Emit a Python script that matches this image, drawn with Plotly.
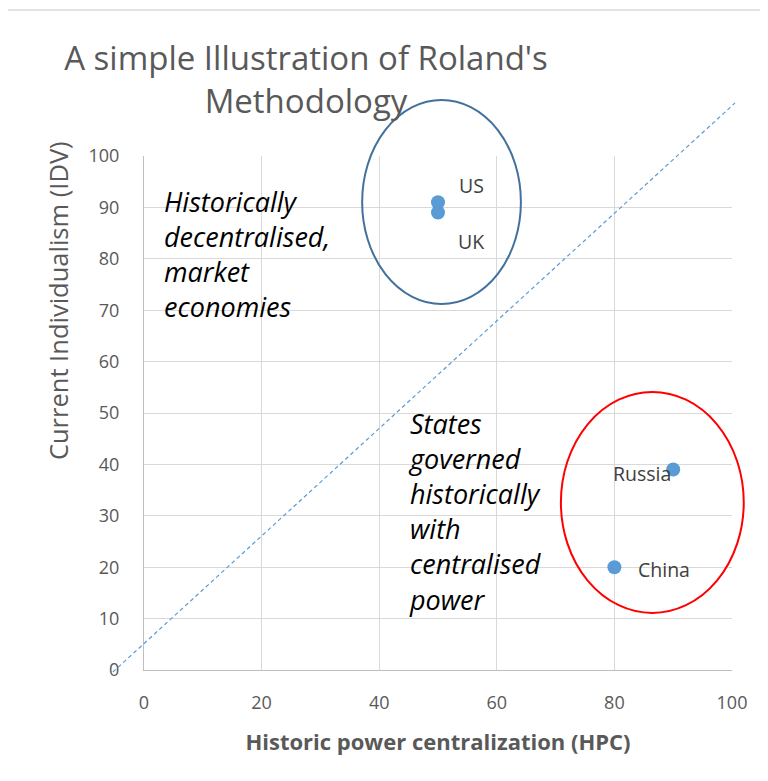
import plotly.graph_objects as go

countries = ["US", "UK", "Russia", "China"]
hpc = [50, 50, 90, 80]
idv = [91, 89, 39, 20]
label_anchor = ["left", "left", "right", "left"]
label_dx = [19, 18, 0, 22]
label_dy = [17, -29, -4, -2]

x_ticks = [0, 20, 40, 60, 80, 100]
y_ticks = [0, 10, 20, 30, 40, 50, 60, 70, 80, 90, 100]
X_RANGE = [0, 100]
Y_RANGE = [0, 100]

# reference guide line (data coords), and group ellipses (data coords)
diag_x = [-5.3, 100.5]
diag_y = [-0.4, 110.3]
blue_ellipse = [37.1, 71.2, 64.1, 110.9]   # x0, y0, x1, y1
red_ellipse = [70.9, 11.1, 102.0, 54.1]

left_text = ["Historically", "decentralised,", "market", "economies"]
left_pos = [3.0, 81]
right_text = ["States", "governed", "historically", "with", "centralised", "power"]
right_pos = [44.6, 30.8]

GREY = "#595959"
FONT = "Open Sans"


def px(v):
    return (v - X_RANGE[0]) / (X_RANGE[1] - X_RANGE[0])


def py(v):
    return (v - Y_RANGE[0]) / (Y_RANGE[1] - Y_RANGE[0])


fig = go.Figure()
fig.add_trace(go.Scatter(
    x=hpc, y=idv, mode="markers",
    marker=dict(color="#5b9bd5", size=14),
    hoverinfo="x+y+text", text=countries, showlegend=False,
))

for c, xv, yv, anc, dx, dy in zip(countries, hpc, idv, label_anchor, label_dx, label_dy):
    fig.add_annotation(x=xv, y=yv, text=c, showarrow=False, xanchor=anc,
                       xshift=dx, yshift=dy,
                       font=dict(family=FONT, size=19.5, color="#404040"))

fig.add_annotation(x=left_pos[0], y=left_pos[1], text="<i>" + "<br>".join(left_text) + "</i>",
                   showarrow=False, xanchor="left", yanchor="middle", align="left",
                   font=dict(family=FONT, size=27, color="black"))
fig.add_annotation(x=right_pos[0], y=right_pos[1], text="<i>" + "<br>".join(right_text) + "</i>",
                   showarrow=False, xanchor="left", yanchor="middle", align="left",
                   font=dict(family=FONT, size=27, color="black"))

# y-axis title placed as in the reference (above the axis centre)
fig.add_annotation(xref="paper", yref="paper", x=-0.146, y=0.718,
                   text="Current Individualism (IDV)", textangle=-90,
                   showarrow=False, xanchor="center", yanchor="middle",
                   font=dict(family=FONT, size=25.5, color=GREY))

fig.add_shape(type="line", xref="paper", yref="paper",
              x0=px(diag_x[0]), y0=py(diag_y[0]), x1=px(diag_x[1]), y1=py(diag_y[1]),
              line=dict(color="#5b9bd5", width=1.2, dash="4px,3px"))
fig.add_shape(type="circle", xref="paper", yref="paper",
              x0=px(blue_ellipse[0]), y0=py(blue_ellipse[1]),
              x1=px(blue_ellipse[2]), y1=py(blue_ellipse[3]),
              line=dict(color="#41719c", width=2))
fig.add_shape(type="circle", xref="paper", yref="paper",
              x0=px(red_ellipse[0]), y0=py(red_ellipse[1]),
              x1=px(red_ellipse[2]), y1=py(red_ellipse[3]),
              line=dict(color="#ff0000", width=2))
# chart area border
fig.add_shape(type="rect", xref="paper", yref="paper",
              x0=-0.236, y0=-0.3, x1=1.2, y1=1.284,
              line=dict(color="#d9d9d9", width=1.5), layer="below")

fig.update_layout(
    width=768, height=781,
    margin=dict(l=136, r=44, t=148, b=119),
    paper_bgcolor="white", plot_bgcolor="white",
    title=dict(text="A simple Illustration of Roland's<br>Methodology",
               x=298 / 768, xanchor="center", y=1 - 62 / 781, yanchor="top",
               font=dict(family=FONT, size=33, color=GREY)),
    xaxis=dict(range=X_RANGE, tickvals=x_ticks, showgrid=True, gridcolor="#d9d9d9",
               showline=True, linecolor="#bfbfbf", zeroline=False, ticks="",
               ticklabelstandoff=16,
               tickfont=dict(family=FONT, size=18, color=GREY),
               title=dict(text="<b>Historic power centralization (HPC)</b>",
                          font=dict(family=FONT, size=22, color=GREY), standoff=22)),
    yaxis=dict(range=Y_RANGE, tickvals=y_ticks, showgrid=True, gridcolor="#d9d9d9",
               showline=True, linecolor="#bfbfbf", zeroline=False, ticks="",
               ticklabelstandoff=20,
               tickfont=dict(family=FONT, size=18, color=GREY)),
)

fig.write_html("out.html")
